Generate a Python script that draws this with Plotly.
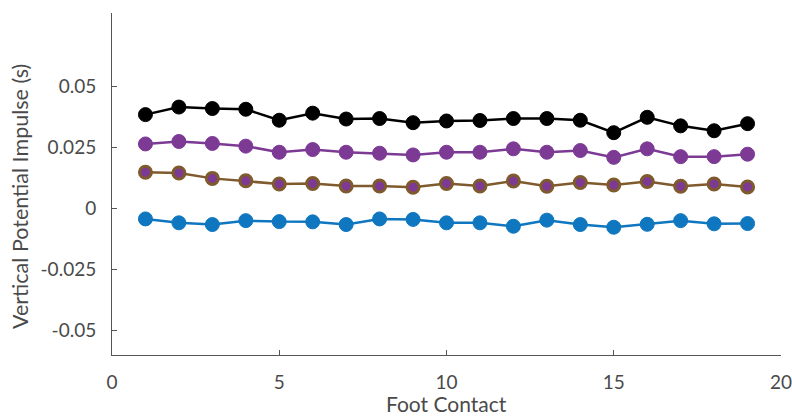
import plotly.graph_objects as go

foot_contact = list(range(1, 20))

black_vals = [0.0384, 0.0415, 0.0409, 0.0406, 0.0361, 0.0390, 0.0366, 0.0368, 0.0351, 0.0358,
              0.0360, 0.0368, 0.0368, 0.0361, 0.0310, 0.0373, 0.0338, 0.0318, 0.0347]
purple_vals = [0.0264, 0.0274, 0.0266, 0.0255, 0.0230, 0.0241, 0.0230, 0.0226, 0.0219, 0.0230,
               0.0230, 0.0244, 0.0230, 0.0237, 0.0209, 0.0244, 0.0212, 0.0212, 0.0222]
brown_vals = [0.0148, 0.0145, 0.0123, 0.0113, 0.0100, 0.0102, 0.0092, 0.0092, 0.0087, 0.0102,
              0.0092, 0.0112, 0.0091, 0.0106, 0.0096, 0.0110, 0.0091, 0.0100, 0.0088]
blue_vals = [-0.0043, -0.0059, -0.0066, -0.0050, -0.0054, -0.0055, -0.0066, -0.0043, -0.0045, -0.0059,
             -0.0059, -0.0073, -0.0048, -0.0066, -0.0077, -0.0065, -0.0050, -0.0063, -0.0062]

y_tickvals = [-0.05, -0.025, 0, 0.025, 0.05]
y_ticktext = ["-0.05", "-0.025", "0", "0.025", "0.05"]
x_tickvals = [0, 5, 10, 15, 20]

x_title = "Foot Contact"
y_title = "Vertical Potential Impulse (s)"

BLACK = "#000000"
PURPLE = "#7C3A95"
BROWN = "#7F5A2C"
BLUE = "#0F76C0"
TEXT = "#4a4a4a"
AXIS = "#555555"

fig = go.Figure()

fig.add_trace(go.Scatter(x=foot_contact, y=black_vals, mode="lines+markers",
                         line=dict(color=BLACK, width=2.5),
                         marker=dict(size=14, color=BLACK, line=dict(color=BLACK, width=1))))
fig.add_trace(go.Scatter(x=foot_contact, y=purple_vals, mode="lines+markers",
                         line=dict(color=PURPLE, width=2.5),
                         marker=dict(size=14, color=PURPLE, line=dict(color=PURPLE, width=1))))
fig.add_trace(go.Scatter(x=foot_contact, y=brown_vals, mode="lines+markers",
                         line=dict(color=BROWN, width=2.5),
                         marker=dict(size=12, color=PURPLE, line=dict(color=BROWN, width=3))))
fig.add_trace(go.Scatter(x=foot_contact, y=blue_vals, mode="lines+markers",
                         line=dict(color=BLUE, width=2.5),
                         marker=dict(size=14, color=BLUE, line=dict(color=BLUE, width=1))))

font_family = "Lato, Noto Sans, sans-serif"

fig.update_layout(
    width=792, height=416,
    margin=dict(l=112, r=11, t=13, b=61),
    paper_bgcolor="white", plot_bgcolor="white",
    showlegend=False,
    font=dict(family=font_family, color=TEXT, size=18),
)
fig.update_xaxes(
    range=[0, 20], tickvals=x_tickvals, ticktext=[str(v) for v in x_tickvals],
    automargin=False, ticklabeloverflow="allow",
    showgrid=False, zeroline=False,
    showline=True, linecolor=AXIS, linewidth=1,
    ticks="inside", ticklen=5, tickcolor=AXIS, tickwidth=1,
    tickfont=dict(size=19, color=TEXT, family=font_family),
    ticklabelstandoff=10,
)
fig.update_yaxes(
    range=[-0.06, 0.08], tickvals=y_tickvals, ticktext=y_ticktext,
    automargin=False, ticklabeloverflow="allow",
    showgrid=False, zeroline=False,
    showline=True, linecolor=AXIS, linewidth=1,
    ticks="inside", ticklen=5, tickcolor=AXIS, tickwidth=1,
    tickfont=dict(size=19, color=TEXT, family=font_family),
    ticklabelstandoff=11,
)

fig.add_annotation(text=x_title, xref="paper", yref="paper", x=0.5, y=-0.1404,
                   xanchor="center", yanchor="middle", showarrow=False,
                   font=dict(size=21, color=TEXT, family=font_family))
fig.add_annotation(text=y_title, xref="paper", yref="paper", x=-0.1375, y=0.462,
                   xanchor="center", yanchor="middle", textangle=-90, showarrow=False,
                   font=dict(size=21.5, color=TEXT, family=font_family))

fig.write_html("out.html")
